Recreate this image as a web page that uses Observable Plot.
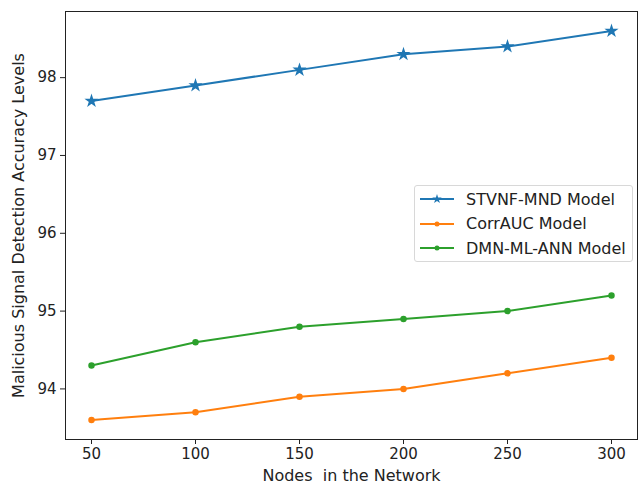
<!DOCTYPE html>
<html>
<head>
<meta charset="utf-8">
<script src="https://cdn.jsdelivr.net/npm/d3@7"></script>
<script src="https://cdn.jsdelivr.net/npm/@observablehq/plot@0.6"></script>
<style>
  html, body { margin: 0; padding: 0; background: #fff; }
  #wrap { position: relative; width: 638px; height: 487px; font-family: "DejaVu Sans", sans-serif; }
  #legend { position: absolute; left: 414px; top: 185px; width: 219px; height: 77px;
    border: 1px solid #d8d8d8; border-radius: 3px; background: rgba(255,255,255,0.85);
    box-sizing: border-box; font-size: 16px; color: #222; }
  .item { position: absolute; left: 0; height: 22px; display: flex; align-items: center; }
  .item svg { margin-left: 5px; margin-right: 12px; }
</style>
</head>
<body>
<div id="wrap"></div>
<script>
const nodes = [50, 100, 150, 200, 250, 300];
const stvnf = [97.7, 97.9, 98.1, 98.3, 98.4, 98.6];
const corrauc = [93.6, 93.7, 93.9, 94.0, 94.2, 94.4];
const dmn = [94.3, 94.6, 94.8, 94.9, 95.0, 95.2];
const seriesNames = ["STVNF-MND Model", "CorrAUC Model", "DMN-ML-ANN Model"];
const colors = ["#1f77b4", "#ff7f0e", "#2ca02c"];
const symbols = ["star", "circle", "circle"];
const xTicks = [50, 100, 150, 200, 250, 300];
const yTicks = [94, 95, 96, 97, 98];

const seriesValues = [stvnf, corrauc, dmn];
const rows = seriesNames.flatMap((s, i) => nodes.map((n, j) => ({series: s, x: n, y: seriesValues[i][j]})));

const chart = Plot.plot({
  width: 638,
  height: 487,
  marginLeft: 65,
  marginRight: 1,
  marginTop: 11,
  marginBottom: 48,
  style: {fontFamily: "DejaVu Sans, sans-serif", fontSize: "15px", color: "#222", background: "transparent", overflow: "visible"},
  x: {domain: [37.5, 312.5], label: null},
  y: {domain: [93.35, 98.85], label: null},
  color: {domain: seriesNames, range: colors},
  symbol: {domain: seriesNames, range: symbols},
  marks: [
    Plot.frame({stroke: "#222", strokeWidth: 1}),
    Plot.axisX({ticks: xTicks, tickSize: 5, tickPadding: 4, fontSize: 15, label: null, tickFormat: d3.format("d")}),
    Plot.axisY({ticks: yTicks, tickSize: 5, tickPadding: 4, fontSize: 15, label: null, tickFormat: d3.format("d")}),
    Plot.line(rows, {x: "x", y: "y", z: "series", stroke: "series", strokeWidth: 2}),
    Plot.dot(rows.filter(d => d.series === seriesNames[0]), {x: "x", y: "y", symbol: "series", fill: "series", stroke: "series", r: 3}),
    Plot.dot(rows.filter(d => d.series !== seriesNames[0]), {x: "x", y: "y", symbol: "series", fill: "series", stroke: "series", r: 2.5}),
    Plot.text(["Nodes  in the Network"], {frameAnchor: "bottom", dy: 41, fontSize: 16, fill: "#222"}),
    Plot.text(["Malicious Signal Detection Accuracy Levels"], {frameAnchor: "left", textAnchor: "middle", dx: -47, rotate: -90, fontSize: 16, fill: "#222"})
  ]
});

const wrap = document.getElementById("wrap");
wrap.appendChild(chart);

const legend = document.createElement("div");
legend.id = "legend";
seriesNames.forEach((name, i) => {
  const item = document.createElement("div");
  item.className = "item";
  item.style.top = (2 + i * 24.5) + "px";
  const marker = symbols[i] === "star"
    ? `<path d="${d3.symbol(d3.symbolStar, 28)()}" transform="translate(17,8)" fill="${colors[i]}"/>`
    : `<circle cx="17" cy="8" r="2.5" fill="${colors[i]}"/>`;
  item.innerHTML = `<svg width="34" height="16"><line x1="0" x2="34" y1="8" y2="8" stroke="${colors[i]}" stroke-width="2"/>${marker}</svg><span>${name}</span>`;
  legend.appendChild(item);
});
wrap.appendChild(legend);
</script>
</body>
</html>
